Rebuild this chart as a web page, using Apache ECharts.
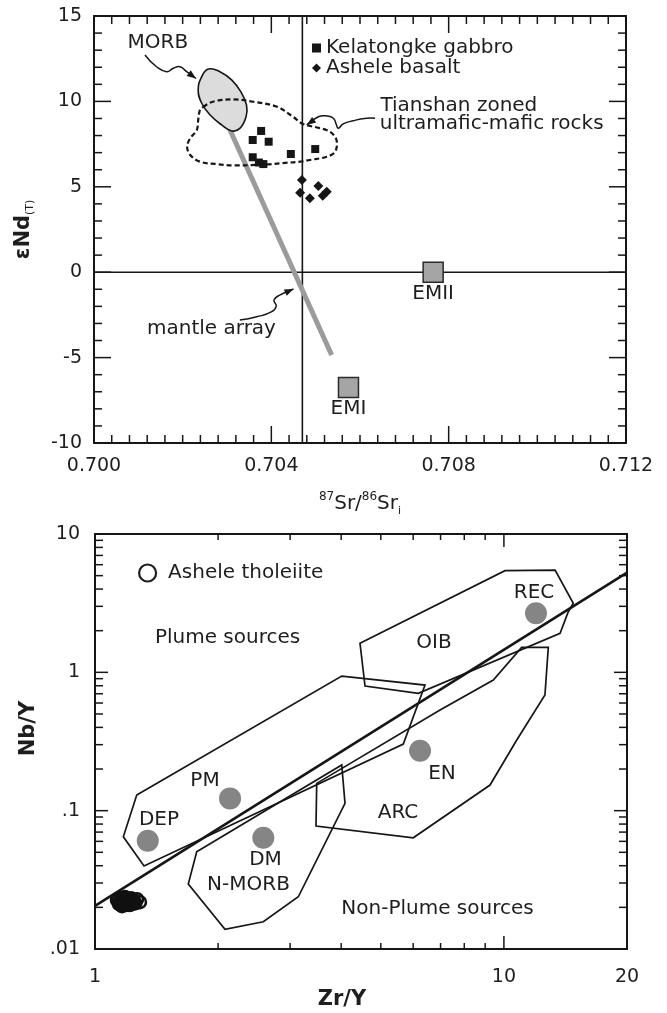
<!DOCTYPE html>
<html>
<head>
<meta charset="utf-8">
<title>Sr-Nd and Nb/Y-Zr/Y diagrams</title>
<script src="https://cdn.jsdelivr.net/npm/echarts@6/dist/echarts.min.js"></script>
<style>
  html, body { margin: 0; padding: 0; background: #fff; }
  #main { width: 667px; height: 1013px; }
</style>
</head>
<body>
<div id="main"></div>
<script>
// ---------- upper diagram: eNd(T) vs 87Sr/86Sr(i) ----------
var kelatongke = [[0.70377, 8.27], [0.70358, 7.74], [0.70394, 7.64], [0.70358, 6.73],
  [0.70382, 6.33], [0.70372, 6.42], [0.70444, 6.92], [0.70499, 7.21]];
var asheleBasalt = [[0.70469, 5.40], [0.70465, 4.65], [0.70487, 4.33], [0.70506, 5.05],
  [0.70516, 4.48], [0.70525, 4.71]];
var emEnds = [['EMII', 0.70765, 0.0], ['EMI', 0.70574, -6.75]];
var mantleArray = [[0.70305, 8.43], [0.70536, -4.85]];
var bulkSr = 0.7047;
var morbOutline = [[0.70258, 11.90], [0.70284, 11.74], [0.70311, 11.25], [0.70331, 10.57],
  [0.70344, 9.79], [0.70343, 9.10], [0.70329, 8.42], [0.70311, 8.27], [0.70288, 8.62],
  [0.70262, 9.20], [0.70243, 9.89], [0.70235, 10.67], [0.70243, 11.45]];
var tianshanOutline = [[0.70246, 9.67], [0.70268, 9.98], [0.70314, 10.12], [0.70359, 9.98],
  [0.70413, 9.69], [0.70449, 9.10], [0.70471, 8.68], [0.70499, 8.50], [0.70532, 8.23],
  [0.70547, 7.74], [0.70544, 7.06], [0.70525, 6.76], [0.70487, 6.57], [0.70465, 6.47],
  [0.70426, 6.39], [0.70390, 6.31], [0.70314, 6.25], [0.70277, 6.33], [0.70239, 6.47],
  [0.70217, 6.86], [0.70210, 7.35], [0.70217, 7.84], [0.70232, 8.33], [0.70235, 8.91],
  [0.70239, 9.50]];
var morbArrow = [[0.70115, 12.72], [0.70141, 12.03], [0.70164, 11.74], [0.70179, 11.94],
  [0.70194, 12.03], [0.70209, 11.74], [0.70230, 11.34]];
var tianshanArrow = [[0.70634, 9.01], [0.70615, 9.01], [0.70585, 8.87], [0.70562, 8.68],
  [0.70551, 8.43], [0.70547, 8.62], [0.70540, 9.01], [0.70525, 9.15], [0.70506, 9.10],
  [0.70480, 8.62]];
var mantleArrow = [[0.70329, -2.80], [0.70367, -2.61], [0.70401, -2.31], [0.70411, -1.98],
  [0.70406, -1.63], [0.70420, -1.33], [0.70450, -0.98]];
var topLabels = [['MORB', 0.70144, 13.45], ['Tianshan zoned', 0.70823, 9.73],
  ['ultramafic-mafic rocks', 0.70897, 8.68], ['mantle array', 0.70265, -3.33]];

// ---------- lower diagram: Nb/Y vs Zr/Y ----------
var tholeiite = [[1.132, 0.0226], [1.145, 0.0211], [1.158, 0.0233], [1.164, 0.0204],
  [1.177, 0.0222], [1.184, 0.0237], [1.191, 0.0208], [1.204, 0.0226], [1.211, 0.0215],
  [1.225, 0.0233], [1.231, 0.0211], [1.245, 0.0222], [1.267, 0.0229], [1.288, 0.0218],
  [1.150, 0.0220], [1.170, 0.0214], [1.198, 0.0231], [1.218, 0.0221], [1.238, 0.0228],
  [1.255, 0.0214], [1.140, 0.0230], [1.215, 0.0208]];
var reservoirs = [['REC', 11.98, 2.67], ['PM', 2.139, 0.1227], ['DEP', 1.346, 0.0606],
  ['DM', 2.58, 0.0637], ['EN', 6.236, 0.271]];
var dividingLine = [[1, 0.0205], [20, 5.25]];
var plumeField = [[1.265, 0.1297], [4.012, 0.940], [6.413, 0.809], [5.675, 0.303],
  [1.318, 0.0398], [1.173, 0.0648]];
var oibField = [[4.447, 1.62], [10.06, 5.43], [13.34, 5.49], [14.78, 3.155], [14.37, 2.743],
  [13.72, 1.914], [6.175, 0.705], [4.575, 0.796]];
var nmorbField = [[1.773, 0.0504], [4.012, 0.2137], [4.087, 0.1129], [3.142, 0.02385],
  [2.580, 0.01573], [2.079, 0.01386], [1.691, 0.02946]];
var arcField = [[3.485, 0.1575], [3.471, 0.0774], [6.003, 0.0637], [9.248, 0.1532],
  [10.75, 0.324], [12.60, 0.685], [12.84, 1.516], [11.05, 1.516], [9.421, 0.88], [6.98, 0.534]];
var bottomLabels = [['Plume sources', 2.109, 1.779], ['OIB', 6.745, 1.629], ['REC', 11.85, 3.776],
  ['PM', 1.858, 0.1637], ['DEP', 1.434, 0.0855], ['DM', 2.612, 0.044], ['N-MORB', 2.373, 0.029],
  ['EN', 7.058, 0.186], ['ARC', 5.508, 0.0969], ['Non-Plume sources', 6.88, 0.01943]];

// axis ranges and tick values
var srRange = [0.700, 0.712];
var ndRange = [-10, 15];
var zrRange = [1, 20];
var nbRange = [0.01, 10];
var srMajor = [0.700, 0.704, 0.708, 0.712];
var srMinor = [];
for (var i = 1; i < 30; i++) { if (i % 10) srMinor.push(+(0.700 + i * 0.0004).toFixed(4)); }
var ndMajor = [-10, -5, 0, 5, 10, 15];
var ndMinor = [-9, -8, -7, -6, -4, -3, -2, -1, 1, 2, 3, 4, 6, 7, 8, 9, 11, 12, 13, 14];
var zrMajor = [1, 10];
var zrMinor = [2, 3, 4, 5, 6, 7, 8, 9];
var zrLabels = [1.00001, 10, 19.9999];
var nbMajor = [0.01, 0.1, 1, 10];
var nbMinor = [0.02, 0.03, 0.04, 0.05, 0.06, 0.07, 0.08, 0.09,
  0.2, 0.3, 0.4, 0.5, 0.6, 0.7, 0.8, 0.9, 2, 3, 4, 5, 6, 7, 8, 9];
var nbLabels = [0.010001, 0.1, 1, 9.9999];

var FONT = "'DejaVu Sans', sans-serif";
var INK = '#161616';
var TXT = '#1e1e1e';

var chart = echarts.init(document.getElementById('main'));

// polygon / polyline drawn from a list of data points
function shapeItem(pts, closed, style, smooth) {
  return function (params, api) {
    if (params.dataIndex !== 0) return null;
    var p = pts.map(function (d) { return api.coord(d); });
    return {
      type: closed ? 'polygon' : 'polyline',
      shape: { points: p, smooth: smooth || 0 },
      style: style
    };
  };
}

function arrowItem(pts) {
  return function (params, api) {
    if (params.dataIndex !== 0) return null;
    var p = pts.map(function (d) { return api.coord(d); });
    var a = p[p.length - 2], b = p[p.length - 1];
    var ang = Math.atan2(b[1] - a[1], b[0] - a[0]);
    var L = 9, W = 3.5;
    var c = Math.cos(ang), s = Math.sin(ang);
    var head = [b, [b[0] - L * c + W * s, b[1] - L * s - W * c], [b[0] - L * c - W * s, b[1] - L * s + W * c]];
    return {
      type: 'group',
      children: [
        { type: 'polyline', shape: { points: p, smooth: 0.5 }, style: { stroke: INK, lineWidth: 1.5, fill: null } },
        { type: 'polygon', shape: { points: head }, style: { fill: INK } }
      ]
    };
  };
}

function textItem(list, size) {
  return function (params, api) {
    var c = api.coord([api.value(0), api.value(1)]);
    return {
      type: 'text', x: c[0], y: c[1],
      style: { text: list[params.dataIndex][0], align: 'center', verticalAlign: 'middle',
        fill: TXT, font: size + 'px ' + FONT }
    };
  };
}

function custom(xi, yi, pts, render, z) {
  return { type: 'custom', xAxisIndex: xi, yAxisIndex: yi, data: [pts[0]], renderItem: render,
    silent: true, z: z || 3, clip: false };
}

// inward ticks on the left / right sides, placed with api.coord
function sideTicks(xi, yi, xr, yr, side, values, len) {
  var w = 1.5;
  return custom(xi, yi, [[xr[0], yr[0]]], function (params, api) {
    if (params.dataIndex !== 0) return null;
    var bars = values.map(function (v) {
      var p = api.coord([side === 'left' ? xr[0] : xr[1], v]);
      var x0 = side === 'left' ? p[0] : p[0] - len;
      return { type: 'rect', shape: { x: x0, y: p[1] - w / 2, width: len, height: w }, style: { fill: INK } };
    });
    return { type: 'group', children: bars };
  }, 50);
}

var lineStyleAxis = { color: INK, width: 2 };
var labelBase = { color: TXT, fontSize: 19, fontFamily: FONT };

function axis(grid, type, pos, range, labels) {
  var a = {
    gridIndex: grid, type: type, position: pos, min: range[0], max: range[1],
    axisLine: { show: true, onZero: false, lineStyle: lineStyleAxis },
    axisTick: { show: false },
    splitLine: { show: false },
    axisLabel: labels ? labels : { show: false }
  };
  if (type === 'log') a.logBase = 10;
  return a;
}

var xTop = axis(0, 'value', 'bottom', srRange, Object.assign({
  customValues: srMajor, margin: 14, formatter: function (v) { return v.toFixed(3); }
}, labelBase));
xTop.name = '{sup|87}{n|Sr/}{sup|86}{n|Sr}{sub|i}';
xTop.nameLocation = 'middle';
xTop.nameGap = 48;
xTop.nameTextStyle = {
  rich: {
    n: { fontSize: 20, fontFamily: FONT, color: TXT, verticalAlign: 'middle', lineHeight: 26 },
    sup: { fontSize: 12, fontFamily: FONT, color: TXT, verticalAlign: 'top', lineHeight: 26 },
    sub: { fontSize: 11, fontFamily: FONT, color: TXT, verticalAlign: 'bottom', lineHeight: 22 }
  }
};

var yTop = axis(0, 'value', 'left', ndRange, Object.assign({ customValues: ndMajor, margin: 12 }, labelBase));
yTop.name = '{n|εNd}{sub|(T)}';
yTop.nameLocation = 'middle';
yTop.nameGap = 58;
yTop.nameRotate = 90;
yTop.nameTextStyle = {
  rich: {
    n: { fontSize: 21, fontWeight: 'bold', fontFamily: FONT, color: TXT, verticalAlign: 'middle', lineHeight: 24 },
    sub: { fontSize: 11, fontFamily: FONT, color: TXT, verticalAlign: 'bottom', lineHeight: 22 }
  }
};

var xLow = axis(1, 'log', 'bottom', zrRange, Object.assign({
  customValues: zrLabels, margin: 19,
  formatter: function (v) { return v > 15 ? '20' : v > 5 ? '10' : '1'; }
}, labelBase));
xLow.name = 'Zr/Y';
xLow.nameLocation = 'middle';
xLow.nameGap = 40;
xLow.nameTextStyle = { fontSize: 21, fontWeight: 'bold', fontFamily: FONT, color: TXT, padding: [0, 38, 0, 0] };

var yLow = axis(1, 'log', 'left', nbRange, Object.assign({
  customValues: nbLabels, margin: 15, padding: [9, 0, 0, 0],
  formatter: function (v) { return v > 5 ? '10' : v > 0.5 ? '1' : v > 0.05 ? '.1' : '.01'; }
}, labelBase));
yLow.name = 'Nb/Y';
yLow.nameLocation = 'middle';
yLow.nameGap = 50;
yLow.nameRotate = 90;
yLow.nameTextStyle = { fontSize: 21, fontWeight: 'bold', fontFamily: FONT, color: TXT, padding: [0, 0, 0, 26] };

var series = [
  // upper diagram
  { type: 'line', xAxisIndex: 0, yAxisIndex: 0, data: [[0.700, 0], [0.712, 0]], symbol: 'none',
    lineStyle: { color: INK, width: 1.6 }, silent: true, z: 2 },
  { type: 'line', xAxisIndex: 0, yAxisIndex: 0, data: [[bulkSr, -10], [bulkSr, 15]], symbol: 'none',
    lineStyle: { color: INK, width: 1.6 }, silent: true, z: 2 },
  { type: 'line', xAxisIndex: 0, yAxisIndex: 0, data: mantleArray, symbol: 'none',
    lineStyle: { color: '#9b9b9b', width: 5 }, silent: true, z: 2 },
  custom(0, 0, morbOutline, shapeItem(morbOutline, true,
    { fill: '#dcdcdc', stroke: INK, lineWidth: 1.6 }, 0.45), 3),
  custom(0, 0, tianshanOutline, shapeItem(tianshanOutline, true,
    { fill: null, stroke: INK, lineWidth: 2.2, lineDash: [5, 3] }, 0.35), 3),
  custom(0, 0, morbArrow, arrowItem(morbArrow), 4),
  custom(0, 0, tianshanArrow, arrowItem(tianshanArrow), 4),
  custom(0, 0, mantleArrow, arrowItem(mantleArrow), 4),
  { name: 'Kelatongke gabbro', type: 'scatter', xAxisIndex: 0, yAxisIndex: 0, data: kelatongke,
    symbol: 'rect', symbolSize: 8, itemStyle: { color: INK, opacity: 1 }, z: 5 },
  { name: 'Ashele basalt', type: 'scatter', xAxisIndex: 0, yAxisIndex: 0, data: asheleBasalt,
    symbol: 'diamond', symbolSize: 10, itemStyle: { color: INK, opacity: 1 }, z: 5 },
  { type: 'scatter', xAxisIndex: 0, yAxisIndex: 0,
    data: emEnds.map(function (d) { return { name: d[0], value: [d[1], d[2]] }; }),
    symbol: 'rect', symbolSize: 20, silent: true, z: 5,
    itemStyle: { color: '#a5a5a5', borderColor: '#2a2a2a', borderWidth: 1.5, opacity: 1 },
    label: { show: true, position: 'bottom', distance: 1, formatter: '{b}',
      fontSize: 20, fontFamily: FONT, color: TXT } },
  { type: 'custom', xAxisIndex: 0, yAxisIndex: 0, silent: true, z: 6,
    data: topLabels.map(function (d) { return [d[1], d[2]]; }), renderItem: textItem(topLabels, 20) },
  sideTicks(0, 0, srRange, ndRange, 'left', ndMajor, 17),
  sideTicks(0, 0, srRange, ndRange, 'left', ndMinor, 8),
  sideTicks(0, 0, srRange, ndRange, 'right', ndMajor, 17),
  sideTicks(0, 0, srRange, ndRange, 'right', ndMinor, 8),

  // lower diagram
  custom(2, 2, plumeField, shapeItem(plumeField, true, { fill: null, stroke: INK, lineWidth: 1.7 }), 3),
  custom(2, 2, oibField, shapeItem(oibField, true, { fill: null, stroke: INK, lineWidth: 1.7 }), 3),
  custom(2, 2, nmorbField, shapeItem(nmorbField, true, { fill: null, stroke: INK, lineWidth: 1.7 }), 3),
  custom(2, 2, arcField, shapeItem(arcField, true, { fill: null, stroke: INK, lineWidth: 1.7 }), 3),
  { type: 'line', xAxisIndex: 2, yAxisIndex: 2, data: dividingLine, symbol: 'none',
    lineStyle: { color: INK, width: 2.6 }, silent: true, z: 3 },
  { type: 'scatter', xAxisIndex: 2, yAxisIndex: 2, silent: true, z: 4,
    data: reservoirs.map(function (d) { return [d[1], d[2]]; }),
    symbol: 'circle', symbolSize: 22, itemStyle: { color: '#858585', opacity: 1 } },
  { name: 'Ashele tholeiite', type: 'scatter', xAxisIndex: 2, yAxisIndex: 2, data: tholeiite,
    symbol: 'circle', symbolSize: 12, z: 5,
    itemStyle: { color: 'rgba(255,255,255,0)', borderColor: '#111', borderWidth: 2.6, opacity: 1 } },
  { type: 'custom', xAxisIndex: 2, yAxisIndex: 2, silent: true, z: 6,
    data: bottomLabels.map(function (d) { return [d[1], d[2]]; }), renderItem: textItem(bottomLabels, 20) },
  sideTicks(2, 2, zrRange, nbRange, 'left', nbMajor, 13),
  sideTicks(2, 2, zrRange, nbRange, 'left', nbMinor, 8),
  sideTicks(2, 2, zrRange, nbRange, 'right', nbMajor, 13),
  sideTicks(2, 2, zrRange, nbRange, 'right', nbMinor, 8)
];

var option = {
  animation: false,
  backgroundColor: '#fff',
  grid: [
    { left: 94, right: 41, top: 16, bottom: 570, containLabel: false },
    { left: 95, right: 40, top: 534, bottom: 64, containLabel: false }
  ],
  legend: [
    {
      data: ['Kelatongke gabbro', 'Ashele basalt'], orient: 'vertical', left: 307, top: 33,
      itemGap: 0, itemWidth: 9, itemHeight: 9, selectedMode: false,
      textStyle: { fontSize: 20, fontFamily: FONT, color: TXT, lineHeight: 20 }
    },
    {
      data: ['Ashele tholeiite'], left: 133, top: 558, itemWidth: 19, itemHeight: 17,
      selectedMode: false,
      itemStyle: { color: '#fff', borderColor: TXT, borderWidth: 2.2 },
      textStyle: { fontSize: 20, fontFamily: FONT, color: TXT, padding: [0, 0, 0, 6] }
    }
  ],
  xAxis: [
    xTop,
    axis(0, 'value', 'top', srRange),
    xLow,
    axis(1, 'log', 'top', zrRange)
  ],
  yAxis: [
    yTop,
    axis(0, 'value', 'right', ndRange),
    yLow,
    axis(1, 'log', 'right', nbRange)
  ],
  series: series
};

chart.setOption(option);

// ticks on the bottom / top sides: short vertical line segments (broken by '-')
// whose inner end is found by converting the tick length back into data units
function xTickLine(xi, yi, yr, values, len) {
  var finder = { xAxisIndex: xi, yAxisIndex: yi };
  var data = [];
  values.forEach(function (v) {
    var b = chart.convertToPixel(finder, [v, yr[0]]);
    var t = chart.convertToPixel(finder, [v, yr[1]]);
    var bEnd = chart.convertFromPixel(finder, [b[0], b[1] - len])[1];
    var tEnd = chart.convertFromPixel(finder, [t[0], t[1] + len])[1];
    data.push([v, yr[0]], [v, bEnd], [v, '-'], [v, yr[1]], [v, tEnd], [v, '-']);
  });
  return { type: 'line', xAxisIndex: xi, yAxisIndex: yi, data: data, symbol: 'none',
    connectNulls: false, lineStyle: { color: INK, width: 1.5 }, silent: true, z: 50 };
}

chart.setOption({
  series: series.concat([
    xTickLine(0, 0, ndRange, srMajor, 17),
    xTickLine(0, 0, ndRange, srMinor, 8),
    xTickLine(2, 2, nbRange, zrMajor, 13),
    xTickLine(2, 2, nbRange, zrMinor, 6)
  ])
});
</script>
</body>
</html>
